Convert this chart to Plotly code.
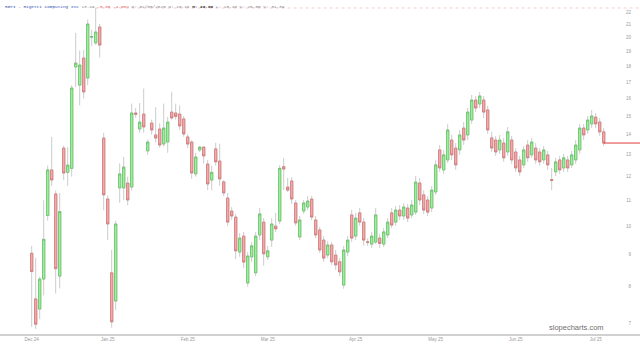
import plotly.graph_objects as go

# ---- data (daily OHLC) ----
opens = [9.05, 7.65, 7.37, 8.23, 10.40, 12.30, 11.26, 8.32, 13.33, 12.19,
         12.37, 17.97, 16.81, 18.57, 17.25, 20.05, 19.63, 20.82, 13.83, 11.05,
         8.42, 7.59, 11.51, 11.51, 11.72, 11.55, 15.17, 14.30, 15.11, 13.19,
         14.62, 13.99, 14.30, 13.53, 13.63, 15.22, 15.17, 15.11, 14.84, 13.89,
         13.63, 12.12, 13.24, 13.38, 12.57, 11.85, 13.29, 12.71, 11.77, 11.09,
         10.57, 10.34, 9.09, 9.64, 8.11, 8.93, 8.42, 9.68, 10.15, 8.93,
         9.50, 10.00, 10.19, 12.45, 11.55, 11.81, 10.89, 9.61, 10.57, 10.73,
         11.05, 10.23, 9.86, 9.50, 8.99, 9.33, 8.99, 8.77, 8.05, 9.09,
         10.42, 9.64, 10.50, 10.15, 9.44, 9.36, 9.43, 9.57, 9.36, 9.68,
         10.50, 10.15, 10.61, 10.38, 10.69, 10.42, 10.53, 11.72, 11.22, 11.01,
         10.69, 11.34, 13.24, 12.30, 12.76, 13.73, 13.33, 13.24, 14.35, 13.99,
         14.78, 15.91, 15.68, 15.91, 15.34, 13.84, 13.73, 13.24, 13.58, 13.14,
         13.73, 13.14, 12.76, 12.53, 13.48, 13.00, 13.33, 13.14, 12.76, 13.00,
         11.87, 12.21, 12.76, 12.39, 12.76, 12.53, 12.76, 13.24, 14.35, 14.25,
         14.57, 14.94, 14.67, 14.15]
highs = [9.30, 8.90, 8.30, 11.00, 12.50, 13.89, 11.40, 11.30, 13.45, 13.38,
         16.80, 20.36, 19.10, 19.13, 21.40, 20.60, 22.33, 21.05, 14.10, 11.20,
         9.16, 10.20, 12.60, 12.90, 12.00, 15.70, 15.45, 15.74, 16.60, 13.75,
         14.80, 15.50, 14.60, 15.70, 14.95, 16.40, 15.70, 15.60, 15.00, 14.04,
         13.73, 13.10, 13.43, 13.43, 12.76, 12.49, 13.60, 13.55, 11.85, 11.30,
         10.73, 10.46, 9.75, 9.79, 9.09, 9.43, 9.79, 10.69, 10.30, 9.30,
         10.30, 10.50, 12.52, 12.86, 11.94, 11.98, 11.01, 10.38, 11.01, 11.17,
         11.17, 10.38, 9.97, 9.64, 9.46, 9.43, 9.16, 8.89, 9.30, 9.64,
         10.61, 10.50, 10.69, 10.30, 9.57, 9.79, 10.69, 9.72, 9.93, 10.30,
         10.69, 10.77, 10.81, 10.89, 10.85, 11.01, 12.03, 11.94, 11.42, 11.17,
         11.59, 12.76, 13.48, 13.24, 14.57, 13.99, 13.58, 14.25, 14.67, 15.45,
         16.21, 16.15, 16.39, 16.15, 15.57, 14.15, 13.94, 13.99, 13.84, 14.41,
         13.94, 13.33, 12.95, 13.43, 13.73, 13.84, 13.58, 13.33, 13.43, 13.19,
         12.39, 12.86, 12.95, 13.05, 12.95, 13.19, 13.73, 14.57, 14.57, 15.00,
         15.34, 15.17, 14.89, 14.35]
lows = [6.90, 6.85, 7.10, 7.75, 10.20, 11.60, 7.80, 7.95, 11.85, 11.60,
        12.00, 16.70, 15.60, 16.00, 16.80, 19.40, 19.50, 18.60, 10.60, 9.50,
        6.88, 7.34, 10.90, 11.00, 10.80, 11.40, 14.90, 14.10, 14.10, 13.00,
        14.00, 13.60, 13.35, 13.40, 13.10, 14.80, 14.80, 14.25, 13.90, 13.33,
        11.90, 12.00, 13.14, 12.60, 11.42, 11.42, 12.49, 11.60, 11.17, 10.00,
        10.23, 8.86, 8.93, 8.57, 8.00, 8.77, 8.32, 9.50, 8.64, 8.83,
        9.26, 9.79, 10.08, 11.42, 11.34, 10.85, 10.01, 9.50, 10.46, 10.61,
        10.23, 9.57, 9.06, 8.77, 8.89, 8.67, 8.51, 8.32, 7.94, 8.96,
        9.43, 9.50, 10.01, 9.30, 9.30, 9.23, 9.36, 9.23, 9.26, 9.57,
        9.93, 10.01, 10.23, 10.23, 10.15, 10.30, 10.42, 10.81, 10.46, 10.38,
        10.53, 11.22, 12.21, 12.12, 12.62, 12.76, 12.30, 13.00, 13.48, 13.73,
        14.57, 15.22, 15.45, 14.89, 14.04, 13.14, 12.95, 13.05, 12.67, 12.95,
        12.58, 12.21, 12.03, 12.39, 12.67, 12.86, 12.58, 12.49, 12.58, 12.30,
        11.42, 12.03, 12.12, 12.21, 12.21, 12.39, 12.58, 13.05, 13.73, 14.04,
        14.35, 14.35, 13.94, 13.43]
closes = [8.46, 6.97, 8.23, 9.53, 12.30, 11.85, 8.55, 10.55, 12.16, 12.52,
          16.63, 18.23, 18.10, 16.39, 21.05, 20.10, 20.44, 19.48, 11.22, 10.08,
          7.03, 10.08, 12.12, 12.43, 11.01, 15.17, 15.10, 14.67, 14.41, 13.63,
          14.25, 13.83, 13.48, 14.35, 14.67, 14.89, 14.98, 14.46, 14.04, 13.53,
          12.16, 12.90, 13.38, 12.95, 11.68, 12.19, 12.67, 11.90, 11.30, 10.15,
          10.38, 9.13, 9.57, 8.76, 8.96, 9.30, 9.64, 10.46, 9.03, 9.13,
          10.08, 9.90, 12.37, 12.34, 11.42, 11.05, 10.12, 10.23, 10.89, 10.97,
          10.34, 9.68, 9.16, 8.89, 9.33, 8.77, 8.67, 8.45, 9.16, 9.50,
          9.57, 10.30, 10.15, 9.50, 9.42, 9.64, 10.42, 9.38, 9.79, 10.15,
          10.04, 10.61, 10.38, 10.73, 10.30, 10.81, 11.76, 11.01, 10.61, 10.53,
          11.42, 12.53, 12.39, 13.00, 14.25, 13.00, 12.53, 13.99, 13.73, 15.22,
          15.91, 15.45, 16.15, 15.22, 14.25, 13.33, 13.14, 13.73, 12.86, 14.15,
          12.76, 12.39, 12.21, 13.24, 12.86, 13.63, 12.76, 12.67, 13.24, 12.53,
          11.83, 12.67, 12.30, 12.86, 12.39, 13.00, 13.48, 14.35, 13.99, 14.78,
          15.00, 14.57, 14.15, 13.58]

month_labels = ["Dec 24", "Jan 25", "Feb 25", "Mar 25", "Apr 25", "May 25", "Jun 25", "Jul 25"]
month_pos = [0, 19, 39, 59, 81, 101, 121, 141]
price_ticks = list(range(7, 23))

n = len(closes)
xs = list(range(n))
body_hi = [max(o, c) for o, c in zip(opens, closes)]
body_lo = [min(o, c) for o, c in zip(opens, closes)]

fig = go.Figure()
# wicks (grey)
fig.add_trace(go.Candlestick(
    x=xs, open=opens, high=highs, low=lows, close=closes,
    increasing=dict(line=dict(color="#cccccc", width=1), fillcolor="#cccccc"),
    decreasing=dict(line=dict(color="#cccccc", width=1), fillcolor="#cccccc"),
    whiskerwidth=0, hoverinfo="skip", showlegend=False))
# bodies (coloured)
fig.add_trace(go.Candlestick(
    x=xs, open=opens, high=body_hi, low=body_lo, close=closes,
    increasing=dict(line=dict(color="#6cbf6c", width=0.8), fillcolor="#98f598"),
    decreasing=dict(line=dict(color="#cf7a7a", width=0.8), fillcolor="#f7a9a9"),
    whiskerwidth=0, showlegend=False))

x_lo, x_hi = -7.925, 152.075

# last price line
fig.add_shape(type="line", xref="x", yref="y", x0=n - 1, x1=x_hi,
              y0=closes[-1], y1=closes[-1], line=dict(color="#e03c3c", width=1))
# high reference dotted line
hi_idx = highs.index(max(highs))
fig.add_shape(type="line", xref="x", yref="y", x0=hi_idx, x1=x_hi,
              y0=max(highs), y1=max(highs), line=dict(color="#f7cccc", width=1, dash="dot"))

title = ('<span style="color:#3452b4">RGTI - Rigetti Computing Inc</span> '
         '<span style="color:#888">13.49</span> '
         '<span style="color:#e06a6a">-0.65 -4.60%</span> '
         '<span style="color:#888">D: 02/05/2025 O: 16.16</span> '
         '<b style="color:#333">H: 20.00</b> '
         '<span style="color:#888">L: 15.10 C: 15.00 V: 31.39</span>')
fig.add_annotation(text=title, xref="paper", yref="paper", x=0.004, y=1,
                   xanchor="left", yanchor="top", yshift=-2, showarrow=False,
                   font=dict(family="Liberation Mono", size=4.4, color="#888"))
fig.add_annotation(text="slopecharts.com", xref="paper", yref="paper", x=0.947, y=0.0,
                   xanchor="right", yanchor="bottom", yshift=0, showarrow=False,
                   font=dict(family="Liberation Sans", size=7.5, color="#6f6f6f"))

fig.update_layout(
    width=640, height=345,
    margin=dict(l=0, r=0, t=0, b=11),
    paper_bgcolor="white", plot_bgcolor="white",
    showlegend=False, boxgap=0.18,
    xaxis=dict(range=[x_lo, x_hi], rangeslider=dict(visible=False),
               tickmode="array", tickvals=month_pos, ticktext=month_labels,
               showgrid=False, zeroline=False, showline=True, linecolor="#d0d0d0",
               linewidth=1.5, ticks="", tickfont=dict(family="Liberation Sans", size=4.5, color="#999")),
    yaxis=dict(type="log", range=[0.82753, 1.36163], side="right",
               ticklabelposition="inside", tickmode="array", tickvals=price_ticks,
               ticktext=[str(v) for v in price_ticks], showgrid=False, zeroline=False,
               showline=False, ticks="", ticklabelstandoff=6,
               tickfont=dict(family="Liberation Sans", size=4.5, color="#999")),
)

fig.write_html("out.html")
